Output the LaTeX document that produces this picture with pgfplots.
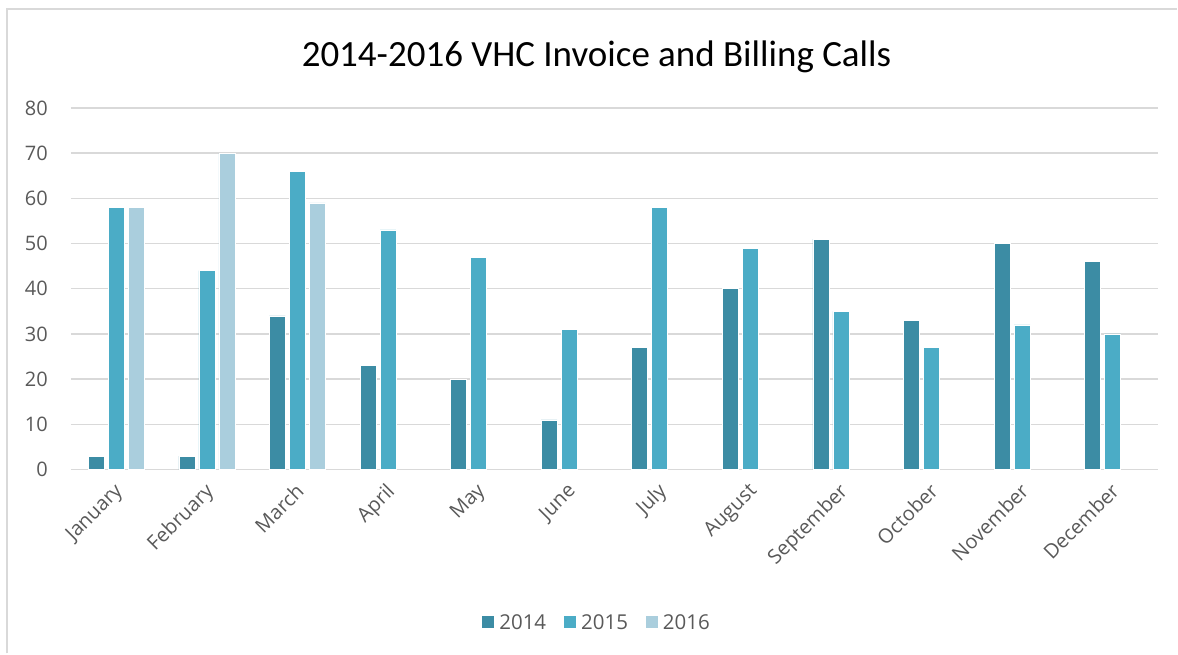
\documentclass[border=0pt]{standalone}
\usepackage{fontspec}
\setmainfont{Open Sans}
\newfontfamily\titlefont{Carlito}
\usepackage{pgfplots}
\pgfplotsset{compat=1.18}
\definecolor{cA}{HTML}{3C8CA4}
\definecolor{cB}{HTML}{4BACC6}
\definecolor{cC}{HTML}{AACEDD}
\definecolor{gridgray}{HTML}{D9D9D9}
\definecolor{labelgray}{HTML}{595959}
\begin{document}
\begin{tikzpicture}[x=1pt,y=1pt]
\path (0,0) rectangle (1178,654);
\draw[gridgray, line width=2pt] (7,0) -- (7,645) -- (1178,645);
\node[font=\titlefont\fontsize{37}{42}\selectfont, text=black] at (597,597) {2014-2016 VHC Invoice and Billing Calls};
\begin{axis}[
  at={(71pt,184pt)}, anchor=south west,
  scale only axis, width=1088pt, height=362pt,
  xmin=-0.5, xmax=11.5, ymin=0, ymax=80,
  ybar, bar width=16pt,
  ytick={0,10,...,80},
  xtick={0,...,11},
  xticklabels={January,February,March,April,May,June,July,August,September,October,November,December},
  ymajorgrids, grid style={draw=gridgray, line width=1.4pt},
  axis line style={draw=none},
  major tick length=0pt, tick style={draw=none},
  /pgf/number format/assume math mode=true,
  yticklabel style={font=\fontsize{20}{24}\selectfont, text=labelgray, anchor=east, inner sep=0pt, xshift=-23pt},
  xticklabel style={font=\fontsize{20}{24}\selectfont, text=labelgray, xshift=-3pt, yshift=-12pt, rotate=45, anchor=north east, inner sep=0pt},
  legend columns=3,
  legend style={at={(0.484,-0.4227)}, anchor=center, draw=none, fill=none,
    font=\fontsize{20.5}{24}\selectfont, text=labelgray,
    /tikz/every odd column/.append style={column sep=3pt},
    /tikz/every even column/.append style={column sep=16pt}},
  legend image code/.code={\fill[#1, draw=none] (0pt,-6pt) rectangle (12pt,6pt);},
]
\addplot[fill=cA, draw=white, line width=0.6pt, bar shift=-20pt] coordinates {
(0,3) (1,3) (2,34) (3,23) (4,20) (5,11) (6,27) (7,40) (8,51) (9,33) (10,50) (11,46)};
\addplot[fill=cB, draw=white, line width=0.6pt, bar shift=0pt] coordinates {
(0,58) (1,44) (2,66) (3,53) (4,47) (5,31) (6,58) (7,49) (8,35) (9,27) (10,32) (11,30)};
\addplot[fill=cC, draw=white, line width=0.6pt, bar shift=20pt] coordinates {
(0,58) (1,70) (2,59)};
\legend{2014,2015,2016}
\end{axis}
\end{tikzpicture}
\end{document}
